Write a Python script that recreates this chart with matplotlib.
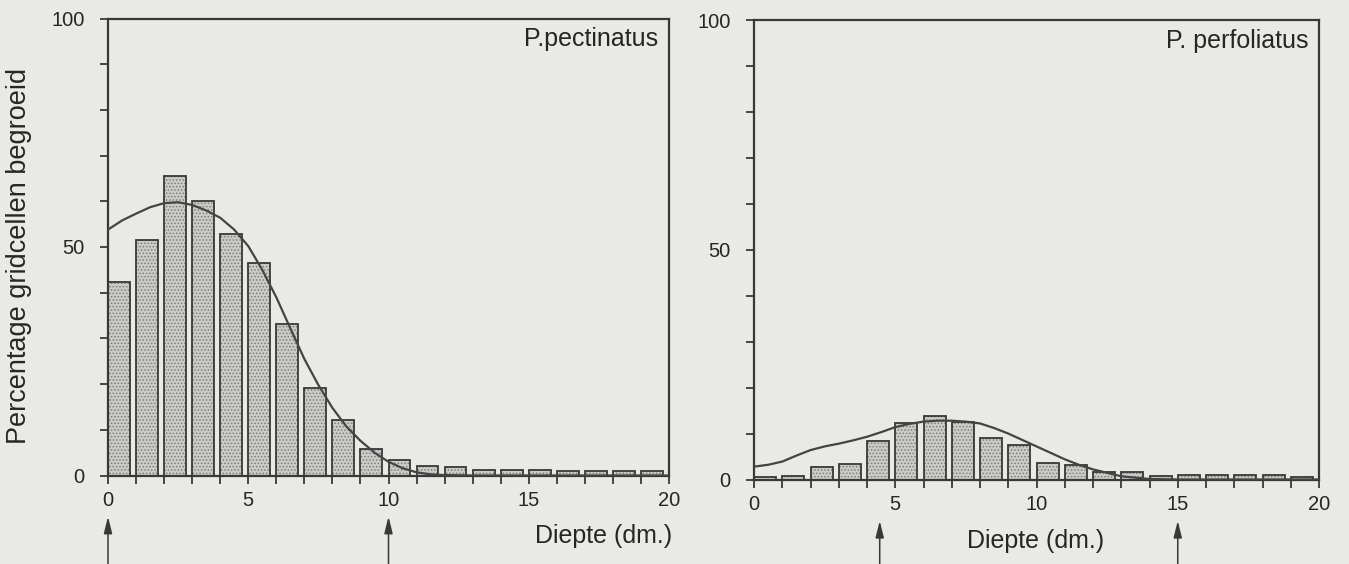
import matplotlib
matplotlib.use("Agg")
import matplotlib.pyplot as plt
import numpy as np

plt.rcParams['font.family'] = ['Liberation Sans', 'DejaVu Sans']

# ---- data ----
depth_bins = list(range(20))  # bar left edges (dm)
pect_values = [42.3, 51.6, 65.6, 60.0, 52.9, 46.5, 33.2, 19.1, 12.2, 5.8,
               3.4, 2.0, 1.8, 1.3, 1.1, 1.1, 1.0, 0.9, 0.9, 0.9]
perf_values = [0.65, 0.7, 2.75, 3.4, 8.4, 12.2, 13.8, 12.5, 9.1, 7.6,
               3.6, 3.1, 1.6, 1.6, 0.7, 0.9, 0.9, 0.9, 0.9, 0.5]

curve_x = [0, 0.5, 1, 1.5, 2, 2.5, 3, 3.5, 4, 4.5, 5, 5.5, 6, 6.5, 7, 7.5,
           8, 8.5, 9, 9.5, 10, 10.5, 11, 11.5, 12, 13, 14, 15, 16, 17, 18, 19, 20]
pect_curve = [53.8, 55.8, 57.3, 58.7, 59.6, 59.8, 59.2, 58.0, 56.4, 53.8, 50.2,
              45.0, 39.0, 32.2, 25.5, 19.8, 14.8, 10.7, 7.6, 5.0, 3.0, 1.6,
              0.7, 0.25, 0.1, 0, 0, 0, 0, 0, 0, 0, 0]
perf_curve = [2.8, 3.2, 3.9, 5.2, 6.4, 7.2, 7.8, 8.5, 9.3, 10.3, 11.4, 12.1,
              12.6, 12.8, 12.8, 12.6, 12.2, 11.2, 10.0, 8.6, 7.2, 5.8, 4.4,
              3.2, 2.2, 0.7, 0.1, 0, 0, 0, 0, 0, 0]

arrows_pect = [0, 10]
arrows_perf = [4.45, 15]

titles = ["P.pectinatus", "P. perfoliatus"]
xlabel = "Diepte (dm.)"
ylabel = "Percentage gridcellen begroeid"
xticks_major = [0, 5, 10, 15, 20]
yticks_major = [0, 50, 100]

# ---- style ----
W, H = 1349, 564
bg = '#e9e9e6'
ink = '#383838'
txt = '#262626'
fig = plt.figure(figsize=(W / 100, H / 100), dpi=100, facecolor=bg)

def pos(x0, x1, ytop, ybot):
    return [x0 / W, 1 - ybot / H, (x1 - x0) / W, (ybot - ytop) / H]

ax1 = fig.add_axes(pos(108, 669, 18.5, 475.5))
ax2 = fig.add_axes(pos(754, 1319, 20, 479.5))

plt.rcParams['hatch.linewidth'] = 0.7

def draw(ax, vals, curve, title, arrows, xl_x, xl_ha):
    ax.set_facecolor(bg)
    ax.set_xlim(0, 20)
    ax.set_ylim(0, 100)
    # stipple fill
    ax.bar(depth_bins, vals, width=0.78, align='edge', color='#cbcbc8',
           edgecolor='#7c7c7a', hatch='.....', linewidth=0, zorder=2)
    # outlines
    ax.bar(depth_bins, vals, width=0.78, align='edge', fill=False,
           edgecolor=ink, linewidth=1.3, zorder=3)
    ax.plot(curve_x, curve, color='#444444', linewidth=1.6, zorder=4)
    for s in ax.spines.values():
        s.set_color(ink)
        s.set_linewidth(1.6)
    ax.set_xticks(xticks_major)
    ax.set_xticks(range(21), minor=True)
    ax.set_yticks(yticks_major)
    ax.set_yticks(range(0, 101, 10), minor=True)
    ax.tick_params(which='both', direction='out', length=6, width=1.3,
                   color=ink, labelcolor=txt, labelsize=14.5)
    ax.tick_params(axis='x', which='both', pad=5)
    ax.tick_params(axis='y', which='both', pad=11)
    ax.text(0.981, 0.939, title, transform=ax.transAxes, ha='right',
            va='baseline', fontsize=18, color=txt)
    ax.text(xl_x, -0.148, xlabel, transform=ax.transAxes, ha=xl_ha,
            va='baseline', fontsize=18, color=txt)
    for a in arrows:
        ax.annotate('', xy=(a, -0.09), xytext=(a, -0.25),
                    xycoords=('data', 'axes fraction'),
                    textcoords=('data', 'axes fraction'),
                    annotation_clip=False,
                    arrowprops=dict(arrowstyle='-|>,head_length=1.0,head_width=0.25',
                                    color=ink, lw=1.1, shrinkA=0, shrinkB=0))

draw(ax1, pect_values, pect_curve, titles[0], arrows_pect, 1.006, 'right')
draw(ax2, perf_values, perf_curve, titles[1], arrows_perf, 0.499, 'center')

fig.text(19 / W, 1 - 256 / H, ylabel, rotation=90, ha='center', va='center',
         fontsize=19.5, color=txt)

fig.savefig('out.png', dpi=100, facecolor=bg)
